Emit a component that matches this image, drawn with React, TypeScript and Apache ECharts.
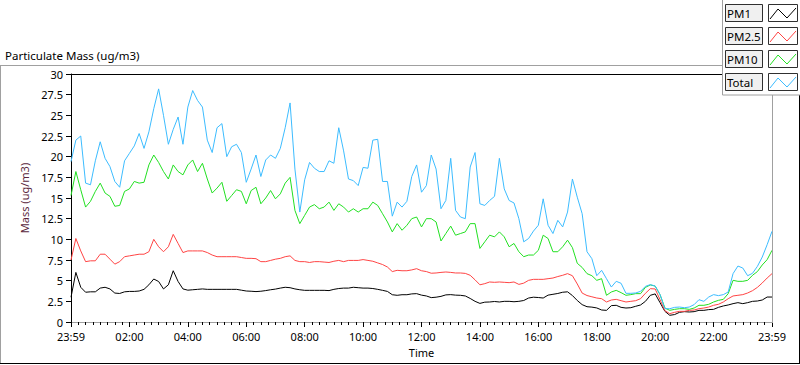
import React, { useEffect, useRef } from "react";
import * as echarts from "echarts";

// ---- data (readings every 10 minutes, 23:59 -> 23:59) ----
const STEP_MINUTES = 10;
const SERIES_NAMES = ["PM1", "PM2.5", "PM10", "Total"];
const SERIES_COLORS = ["#000000", "#ff4444", "#22e022", "#3cbcff"];
const X_TICK_LABELS = ["23:59", "02:00", "04:00", "06:00", "08:00", "10:00", "12:00", "14:00", "16:00", "18:00", "20:00", "22:00", "23:59"];
const TITLE = "Particulate Mass (ug/m3)";
const Y_NAME = "Mass (ug/m3)";
const X_NAME = "Time";

const PM1 = [
  3.0, 6.0, 4.2, 3.6, 3.65, 3.65, 4.1, 4.2, 4.0, 3.5, 3.45, 3.65, 3.7,
  3.7, 3.75, 3.95, 4.5, 5.2, 4.9, 4.0, 4.5, 6.2, 4.9, 4.0, 3.85,
  3.9, 3.95, 4.0, 3.95, 3.95, 3.95, 3.95, 3.95, 3.95, 3.95, 3.85, 3.75,
  3.72, 3.68, 3.72, 3.8, 3.9, 3.98, 4.1, 4.2, 4.15, 4.0, 3.9, 3.83,
  3.83, 3.83, 3.83, 3.83, 3.8, 3.95, 4.05, 4.1, 4.1, 4.2, 4.15, 4.1,
  4.1, 4.05, 3.95, 3.83, 3.7, 3.3, 3.23, 3.3, 3.3, 3.4, 3.43, 3.25,
  3.15, 2.95, 3.0, 3.1, 3.28, 3.31, 3.25, 3.23, 3.15, 2.85, 2.5, 2.25,
  2.4, 2.42, 2.48, 2.42, 2.5, 2.5, 2.45, 2.5, 2.6, 2.9, 3.0, 2.96,
  2.9, 3.25, 3.35, 3.45, 3.6, 3.65, 3.2, 2.6, 2.1, 1.85, 1.8, 1.7,
  1.45, 1.41, 1.98, 2.02, 1.77, 1.69, 1.73, 1.9, 2.06, 2.5, 3.23, 3.4,
  2.34, 1.29, 0.81, 0.9, 1.17, 1.25, 1.21, 1.25, 1.41, 1.41, 1.5, 1.53,
  1.77, 1.94, 2.06, 2.22, 2.34, 2.22, 2.34, 2.5, 2.54, 2.66, 3.02, 3.02,
];

const PM25 = [
  7.5, 10.1, 8.6, 7.3, 7.4, 7.4, 8.2, 8.2, 7.6, 7.0, 7.3, 7.9, 8.0,
  8.1, 8.2, 8.2, 8.5, 10.0, 9.1, 8.5, 9.1, 10.6, 9.5, 8.4, 8.6,
  8.6, 8.6, 8.6, 8.4, 8.1, 7.9, 7.9, 7.9, 7.9, 7.9, 7.8, 7.7,
  7.7, 7.66, 7.3, 7.3, 7.45, 7.6, 7.7, 7.9, 8.0, 7.45, 7.3, 7.3,
  7.2, 7.3, 7.3, 7.25, 7.2, 7.35, 7.45, 7.3, 7.45, 7.45, 7.45, 7.55,
  7.45, 7.35, 7.15, 6.95, 6.65, 6.1, 6.25, 6.2, 6.2, 6.3, 6.45, 6.2,
  6.1, 5.9, 5.93, 6.0, 6.05, 6.0, 5.93, 5.93, 5.88, 5.65, 5.1, 4.5,
  4.64, 4.84, 4.8, 4.84, 4.8, 4.76, 4.84, 4.55, 4.7, 5.04, 5.16, 5.16,
  5.16, 5.24, 5.32, 5.5, 5.65, 5.85, 5.6, 4.6, 3.5, 3.2, 3.05, 2.9,
  2.82, 2.42, 2.66, 2.74, 2.58, 2.42, 2.5, 2.58, 2.82, 3.47, 4.03, 4.0,
  2.7, 1.37, 1.01, 1.17, 1.29, 1.29, 1.41, 1.45, 1.61, 1.69, 1.81, 2.02,
  2.14, 2.42, 2.82, 3.15, 3.23, 3.31, 3.51, 3.79, 4.19, 4.72, 5.32, 5.85,
];

const PM10 = [
  15.3, 18.2, 16.0, 13.9, 14.6, 15.8, 16.8, 15.6, 15.2, 14.0, 14.1, 15.8, 16.1,
  17.0, 16.8, 16.9, 19.0, 20.2, 19.3, 18.2, 17.3, 19.0, 18.2, 17.8, 19.0,
  19.6, 18.2, 19.2, 17.3, 15.6, 16.2, 16.9, 14.6, 15.3, 16.0, 15.8, 14.3,
  15.9, 16.3, 14.3, 15.0, 15.9, 14.9, 15.5, 16.8, 17.5, 13.5, 11.9, 12.9,
  13.9, 14.2, 13.7, 13.9, 14.5, 13.5, 14.3, 13.9, 13.3, 13.7, 13.3, 13.7,
  13.7, 14.5, 14.1, 13.1, 12.1, 10.9, 11.9, 11.1, 11.7, 12.5, 12.7, 11.5,
  12.5, 12.5, 12.1, 9.8, 10.7, 11.6, 10.5, 10.7, 10.9, 11.9, 11.9, 8.9,
  9.7, 10.5, 10.3, 10.9, 10.3, 9.1, 9.5, 8.5, 7.9, 8.1, 8.1, 8.67,
  10.5, 10.1, 8.5, 8.5, 9.1, 9.9, 9.0, 7.1, 6.6, 5.85, 5.6, 5.04,
  5.24, 3.23, 3.63, 3.83, 3.55, 3.23, 3.31, 3.43, 3.43, 4.19, 4.48, 4.35,
  3.31, 1.69, 1.41, 1.53, 1.61, 1.61, 1.53, 1.69, 2.02, 2.02, 2.14, 2.42,
  2.62, 2.74, 3.43, 5.04, 4.92, 4.92, 5.04, 5.65, 6.1, 6.9, 7.54, 8.67,
];

const TOTAL = [
  19.4, 22.0, 22.5, 16.8, 16.6, 19.5, 21.8, 19.8, 18.8, 17.0, 16.3, 19.5, 20.4,
  21.3, 22.8, 21.0, 23.0, 25.8, 28.2, 25.0, 21.5, 23.3, 24.8, 21.5, 26.0,
  28.0, 26.8, 26.0, 22.0, 20.5, 23.5, 24.0, 20.0, 21.2, 21.5, 20.5, 16.9,
  18.5, 20.2, 17.6, 19.6, 20.2, 19.8, 21.0, 23.5, 26.5, 18.5, 13.3, 17.2,
  19.3, 18.6, 18.2, 18.2, 19.5, 19.2, 23.5, 20.7, 17.3, 17.1, 16.5, 18.7,
  18.6, 22.0, 22.1, 17.0, 17.0, 12.8, 14.5, 13.9, 14.6, 17.6, 19.0, 15.7,
  16.5, 20.2, 18.5, 13.7, 14.7, 19.8, 13.5, 12.7, 12.5, 18.75, 20.5, 14.3,
  14.1, 14.7, 15.2, 19.8, 16.1, 14.7, 14.4, 12.5, 9.7, 10.1, 11.0, 11.7,
  14.9, 11.7, 10.7, 12.3, 11.5, 13.3, 17.3, 15.1, 13.1, 8.5, 7.66, 5.6,
  6.25, 5.24, 4.23, 4.92, 4.68, 3.47, 3.47, 3.51, 3.71, 4.31, 4.52, 4.35,
  3.31, 1.61, 1.61, 1.77, 1.81, 1.73, 1.81, 2.1, 2.7, 2.5, 3.02, 3.31,
  3.19, 3.31, 3.63, 5.85, 6.77, 6.53, 5.6, 5.89, 6.73, 7.86, 9.35, 10.97,
];

const SERIES_VALUES = [PM1, PM25, PM10, TOTAL];

const FONT = "'Noto Sans', 'Open Sans', sans-serif";

export default function App() {
  const ref = useRef<HTMLDivElement>(null);

  useEffect(() => {
    document.body.style.margin = "0";
    document.body.style.background = "#ffffff";
    if (!ref.current) return;
    const chart = echarts.init(ref.current, undefined, { renderer: "svg" });

    const plotL = 71, plotT = 74, plotR = 772, plotB = 322;

    const legendItems: any[] = [];
    SERIES_NAMES.forEach((name, i) => {
      const y0 = 4 + i * 23;
      legendItems.push(
        { type: "rect", z: 20, shape: { x: 725.5, y: y0 + 0.5, width: 37, height: 17 }, style: { fill: "#f0f0f0", stroke: "#303030", lineWidth: 1 } },
        { type: "text", z: 21, x: 727, y: y0 + 9.5, style: { text: name, fontSize: 11.5, fontFamily: FONT, fill: "#000", verticalAlign: "middle", align: "left" } },
        { type: "rect", z: 20, shape: { x: 768.5, y: y0 + 0.5, width: 29, height: 17 }, style: { fill: "#ffffff", stroke: "#303030", lineWidth: 1 } },
        { type: "polyline", z: 21, shape: { points: [[770, y0 + 15], [778, y0 + 5], [787, y0 + 14], [796, y0 + 4]] }, style: { stroke: SERIES_COLORS[i], lineWidth: 1, fill: null } },
      );
    });

    const line = (x1: number, y1: number, x2: number, y2: number, stroke: string) => ({
      type: "line", z: 5, shape: { x1, y1, x2, y2 }, style: { stroke, lineWidth: 1 }, silent: true,
    });

    chart.setOption({
      animation: false,
      backgroundColor: "#ffffff",
      grid: { left: plotL, top: plotT, right: 800 - plotR, bottom: 365 - plotB, containLabel: false },
      xAxis: {
        type: "value",
        min: 0,
        max: 1440,
        interval: 120,
        name: X_NAME,
        nameLocation: "middle",
        nameGap: 24,
        nameTextStyle: { fontSize: 11, fontFamily: FONT, color: "#000" },
        axisLine: { show: true, lineStyle: { color: "#a0a0a0", width: 1 } },
        axisTick: { show: true, length: 5, lineStyle: { color: "#000" } },
        minorTick: { show: true, splitNumber: 8, length: 3, lineStyle: { color: "#000" } },
        splitLine: { show: false },
        axisLabel: {
          fontSize: 11,
          fontFamily: FONT,
          color: "#000",
          margin: 9,
          formatter: (v: number) => X_TICK_LABELS[Math.round(v / 120)] ?? "",
        },
      },
      yAxis: {
        type: "value",
        min: 0,
        max: 30,
        interval: 2.5,
        name: Y_NAME,
        nameLocation: "middle",
        nameRotate: 90,
        nameGap: 24,
        nameTextStyle: { fontSize: 11, fontFamily: FONT, color: "#5a1f3c" },
        axisLine: { show: true, lineStyle: { color: "#000", width: 1 } },
        axisTick: { show: true, length: 5, lineStyle: { color: "#000" } },
        splitLine: { show: false },
        axisLabel: { fontSize: 11, fontFamily: FONT, color: "#000", margin: 8 },
      },
      series: SERIES_VALUES.map((vals, i) => ({
        type: "line",
        name: SERIES_NAMES[i],
        data: vals.map((v, k) => [k * STEP_MINUTES, v]),
        showSymbol: false,
        symbol: "none",
        silent: true,
        lineStyle: { color: SERIES_COLORS[i], width: 1 },
        itemStyle: { color: SERIES_COLORS[i] },
        z: 2 + i,
      })),
      graphic: [
        // outer frame
        line(0, 65.5, 722, 65.5, "#a0a0a0"),
        line(0.5, 65, 0.5, 364, "#a0a0a0"),
        line(0, 363.5, 800, 363.5, "#000000"),
        line(799.5, 95, 799.5, 364, "#000000"),
        // plot frame (top / right)
        line(plotL, plotT + 0.5, plotR, plotT + 0.5, "#000000"),
        line(plotR + 0.5, plotT, plotR + 0.5, plotB + 1, "#a0a0a0"),
        // title
        { type: "text", z: 5, x: 5, y: 55, style: { text: TITLE, fontSize: 11.5, fontFamily: FONT, fill: "#000", verticalAlign: "middle" } },
        // legend box
        { type: "rect", z: 10, shape: { x: 722.5, y: -1, width: 80, height: 96 }, style: { fill: "#ffffff", stroke: "#a0a0a0", lineWidth: 1 } },
        ...legendItems,
      ],
    });

    return () => chart.dispose();
  }, []);

  return <div ref={ref} style={{ width: 800, height: 365 }} />;
}
